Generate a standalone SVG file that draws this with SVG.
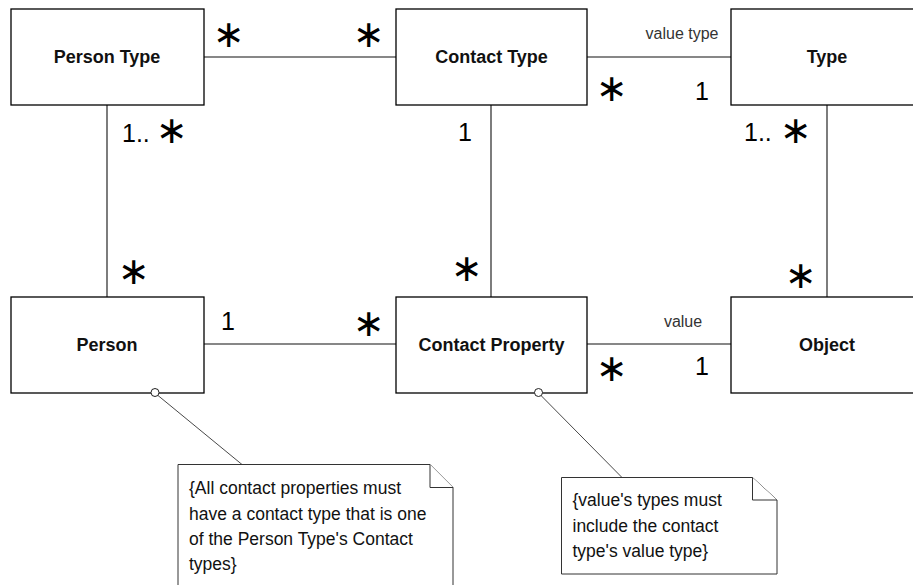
<svg xmlns="http://www.w3.org/2000/svg" width="913" height="585" viewBox="0 0 913 585">
  <style>
    .box { fill: #fff; stroke: #000; stroke-width: 1.3; }
    .assoc { stroke: #111; stroke-width: 1.1; fill: none; }
    .name { font-family: "Liberation Sans", Arial, sans-serif; font-weight: bold; font-size: 18px; text-anchor: middle; fill: #111; }
    .mult { font-family: "Liberation Sans", Arial, sans-serif; font-size: 25px; fill: #000; }
    .star { font-family: "DejaVu Sans", sans-serif; font-size: 38px; text-anchor: middle; fill: #000; }
    .role { font-family: "Liberation Sans", Arial, sans-serif; font-size: 16px; fill: #333; text-anchor: middle; }
    .note { fill: #fff; stroke: #333; stroke-width: 1; }
    .notetext { font-family: "Liberation Sans", Arial, sans-serif; font-size: 17.5px; fill: #111; }
    .anchor { fill: #fff; stroke: #222; stroke-width: 1; }
    .tie { stroke: #333; stroke-width: 0.9; fill: none; }
  </style>

  <!-- associations -->
  <g id="connectors">
    <line class="assoc" x1="204" y1="57" x2="396" y2="57"/>
    <line class="assoc" x1="587" y1="57" x2="731" y2="57"/>
    <line class="assoc" x1="107" y1="105" x2="107" y2="297"/>
    <line class="assoc" x1="491" y1="105" x2="491" y2="297"/>
    <line class="assoc" x1="827" y1="105" x2="827" y2="297"/>
    <line class="assoc" x1="204" y1="344" x2="396" y2="344"/>
    <line class="assoc" x1="587" y1="344" x2="731" y2="344"/>
    <!-- note attachments -->
    <line class="tie" x1="158" y1="395.5" x2="242" y2="464.5"/>
    <line class="tie" x1="541" y1="395.5" x2="622" y2="477.5"/>
  </g>

  <!-- multiplicities and role names -->
  <g id="labels">
    <text class="star" x="229" y="47">∗</text>
    <text class="star" x="369" y="47">∗</text>
    <text class="mult" x="122" y="142">1..</text>
    <text class="star" x="172" y="143">∗</text>
    <text class="star" x="612" y="101">∗</text>
    <text class="mult" x="695" y="100">1</text>
    <text class="mult" x="458" y="141">1</text>
    <text class="mult" x="744" y="141">1..</text>
    <text class="star" x="796" y="143">∗</text>
    <text class="role" x="682" y="39">value type</text>
    <text class="star" x="134" y="284">∗</text>
    <text class="star" x="467" y="281">∗</text>
    <text class="star" x="801" y="288">∗</text>
    <text class="mult" x="221" y="330">1</text>
    <text class="star" x="369" y="336">∗</text>
    <text class="role" x="683" y="327">value</text>
    <text class="star" x="612" y="381">∗</text>
    <text class="mult" x="695" y="375">1</text>
  </g>

  <g id="person-type">
    <rect class="box" x="11" y="9" width="193" height="96"/>
    <text class="name" x="107" y="63">Person Type</text>
  </g>
  <g id="contact-type">
    <rect class="box" x="396" y="9" width="191" height="96"/>
    <text class="name" x="491.5" y="63">Contact Type</text>
  </g>
  <g id="type">
    <rect class="box" x="731" y="9" width="192" height="96"/>
    <text class="name" x="827" y="63">Type</text>
  </g>
  <g id="person">
    <rect class="box" x="11" y="297" width="193" height="96"/>
    <text class="name" x="107" y="351">Person</text>
  </g>
  <g id="contact-property">
    <rect class="box" x="396" y="297" width="191" height="96"/>
    <text class="name" x="491.5" y="351">Contact Property</text>
  </g>
  <g id="object">
    <rect class="box" x="731" y="297" width="192" height="96"/>
    <text class="name" x="827" y="351">Object</text>
  </g>

  <!-- constraint notes -->
  <g id="note-person">
    <circle class="anchor" cx="155" cy="392.5" r="4"/>
    <path class="note" d="M178,464.5 H430 L453,487.5 V600 H178 Z"/>
    <path class="note" d="M430,464.5 V487.5 H453"/>
    <text class="notetext" x="189" y="494">{All contact properties must</text>
    <text class="notetext" x="189" y="519.5">have a contact type that is one</text>
    <text class="notetext" x="189" y="545">of the Person Type's Contact</text>
    <text class="notetext" x="189" y="570">types}</text>
  </g>
  <g id="note-contact-property">
    <circle class="anchor" cx="538.5" cy="392.5" r="4"/>
    <path class="note" d="M561.5,477.5 H752.5 L777,500 V574 H561.5 Z"/>
    <path class="note" d="M752.5,477.5 V500 H777"/>
    <text class="notetext" x="572.5" y="506">{value's types  must</text>
    <text class="notetext" x="572.5" y="531.5">include the contact</text>
    <text class="notetext" x="572.5" y="557">type's value type}</text>
  </g>
</svg>
